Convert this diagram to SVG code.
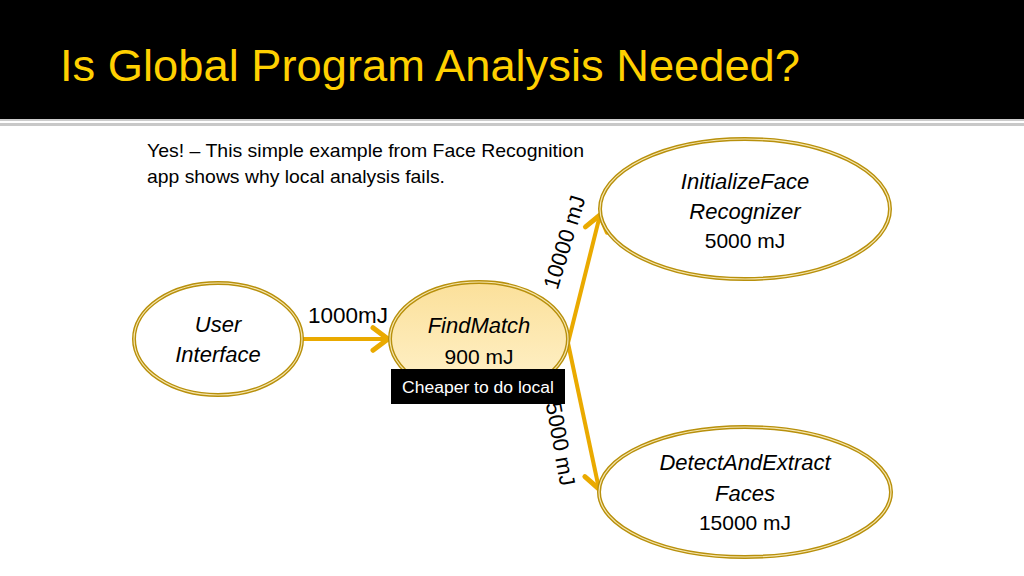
<svg xmlns="http://www.w3.org/2000/svg" width="1024" height="576" viewBox="0 0 1024 576">
<style>
.node-ring{fill:#ffffff;stroke:#B8900C;stroke-width:4}
.node-inner{fill:none;stroke:#F6E6B0;stroke-width:1.2}
.lbl{font-family:"Liberation Sans",Arial,sans-serif;fill:#000;text-anchor:middle}
.it{font-style:italic;font-size:22px}
.num{font-size:21px}
.edge{stroke:#EAAA00;stroke-width:4;fill:none;marker-end:url(#arr)}
.elbl{font-family:"Liberation Sans",Arial,sans-serif;font-size:22px;fill:#000;text-anchor:middle}
</style>
<defs>
<marker id="arr" markerUnits="userSpaceOnUse" markerWidth="30" markerHeight="30" viewBox="-16 -12 20 24" refX="0" refY="0" orient="auto">
<path d="M-12,-9 L0,0 L-12,9" fill="none" stroke="#EAAA00" stroke-width="4" stroke-linecap="round" stroke-linejoin="round"/>
</marker>
<linearGradient id="fmfill" x1="0" y1="0" x2="0" y2="1">
<stop offset="0" stop-color="#FBE09A"/>
<stop offset="1" stop-color="#FFF2CC"/>
</linearGradient>
</defs>
<rect width="1024" height="576" fill="#ffffff"/>
<g id="header">
<rect x="0" y="0" width="1024" height="119" fill="#000000"/>
<line x1="0" y1="120" x2="1024" y2="120" stroke="#9a9a9a" stroke-width="1.2"/>
<line x1="0" y1="124.5" x2="1024" y2="124.5" stroke="#c8c8c8" stroke-width="3"/>
<text x="60" y="81" font-family="Liberation Sans,Arial,sans-serif" font-size="45" fill="#FFD000" textLength="740" lengthAdjust="spacingAndGlyphs">Is Global Program Analysis Needed?</text>
</g>
<g id="intro">
<text x="147" y="157" font-family="Liberation Sans,Arial,sans-serif" font-size="19" fill="#000" textLength="437" lengthAdjust="spacingAndGlyphs">Yes! – This simple example from Face Recognition</text>
<text x="147" y="183" font-family="Liberation Sans,Arial,sans-serif" font-size="19" fill="#000" textLength="298" lengthAdjust="spacingAndGlyphs">app shows why local analysis fails.</text>
</g>
<g id="connectors">
<line class="edge" x1="303" y1="339" x2="388" y2="339"/>
<line class="edge" x1="568" y1="343" x2="600" y2="215"/>
<line class="edge" x1="568" y1="343" x2="599" y2="489"/>
<text class="elbl" x="348" y="323" textLength="80" lengthAdjust="spacingAndGlyphs">1000mJ</text>
<text class="elbl" transform="translate(564 242) rotate(-73)" x="0" y="8">10000 mJ</text>
<text class="elbl" transform="translate(561 444) rotate(80)" x="0" y="8">5000 mJ</text>
</g>
<g id="user-interface">
<ellipse class="node-ring" cx="218" cy="339" rx="84" ry="56"/>
<ellipse class="node-inner" cx="218" cy="339" rx="84" ry="56"/>
<text class="lbl it" x="218" y="332">User</text>
<text class="lbl it" x="218" y="362">Interface</text>
</g>
<g id="find-match">
<ellipse class="node-ring" cx="479" cy="339" rx="89" ry="57" style="fill:url(#fmfill)"/>
<ellipse class="node-inner" cx="479" cy="339" rx="89" ry="57"/>
<text class="lbl it" x="479" y="333">FindMatch</text>
<text class="lbl num" x="479" y="364">900 mJ</text>
</g>
<g id="cheaper-label">
<rect x="391" y="369" width="174" height="35" fill="#000000"/>
<text x="478" y="393" font-family="Liberation Sans,Arial,sans-serif" font-size="16" fill="#ffffff" text-anchor="middle" textLength="152" lengthAdjust="spacingAndGlyphs">Cheaper to do local</text>
</g>
<g id="initialize-face-recognizer">
<ellipse class="node-ring" cx="745" cy="209" rx="145" ry="70"/>
<ellipse class="node-inner" cx="745" cy="209" rx="145" ry="70"/>
<text class="lbl it" x="745" y="189">InitializeFace</text>
<text class="lbl it" x="745" y="219">Recognizer</text>
<text class="lbl num" x="745" y="248">5000 mJ</text>
</g>
<g id="detect-and-extract-faces">
<ellipse class="node-ring" cx="745" cy="492" rx="146" ry="65"/>
<ellipse class="node-inner" cx="745" cy="492" rx="146" ry="65"/>
<text class="lbl it" x="745" y="470">DetectAndExtract</text>
<text class="lbl it" x="745" y="501">Faces</text>
<text class="lbl num" x="745" y="530">15000 mJ</text>
</g>
</svg>
